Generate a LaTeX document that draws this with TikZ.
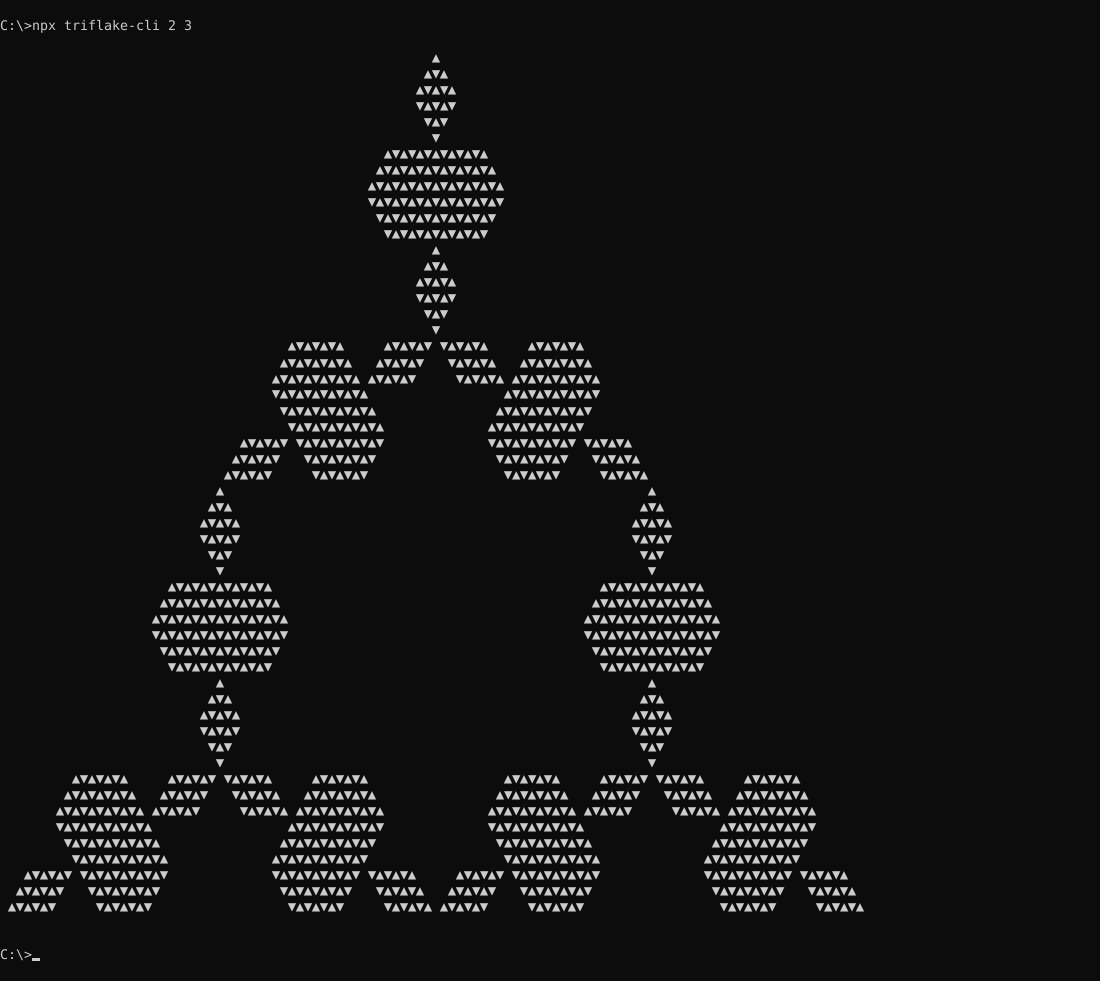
\documentclass[tikz,border=0pt]{standalone}
\usepackage{fontspec}
\setmonofont{DejaVu Sans Mono}
\newfontfamily\trifont{DejaVu Sans Mono}
\usepackage{xcolor}
\definecolor{termbg}{HTML}{0C0C0C}
\definecolor{termfg}{HTML}{CCCCCC}
\usepackage{tikz}

\newcommand{\tup}{\makebox[8pt]{\trifont ▲}}
\newcommand{\tdown}{\makebox[8pt]{\trifont ▼}}
\newcommand{\trirun}[3]{\foreach \q in {#2,...,#3}{\ifodd\numexpr#1+\q\relax\tdown\else\tup\fi}}

\begin{document}
\begin{tikzpicture}[x=1pt, y=-1pt,
	tri/.style={anchor=base west, inner sep=0pt, text=termfg, font=\fontsize{14}{16}\selectfont},
	term/.style={anchor=base west, inner sep=0pt, text=termfg, font=\ttfamily\fontsize{13.29}{16}\selectfont}]

\def \cw{8}    % char width (px)
\def \lh{16}   % line height (px)
\def \basey{63} % baseline of first flake row

\newcommand{\colx}[1]{#1 * \cw}
\newcommand{\rowy}[1]{\basey + #1 * \lh}

\fill[termbg] (0,0) rectangle (1100,981); % console background

\node[term] (cmd)    at (0,31)  {C:\textbackslash>npx triflake-cli 2 3};
\node[term] (prompt) at (0,959) {C:\textbackslash>};
\fill[termfg] (32,958) rectangle (40,961); % cursor

% three copies: top, bottom left, bottom right (row offset / apex column)
\foreach \dr/\dc [count=\k] in {0/54, 27/27, 27/81} {
	% vertical arm, rows centred on the apex column (row / half width)
	\foreach \r/\w in {0/0, 1/1, 2/2, 3/2, 4/1, 5/0,
	                   6/6, 7/7, 8/8, 9/8, 10/7, 11/6,
	                   12/0, 13/1, 14/2, 15/2, 16/1, 17/0} {
		\pgfmathtruncatemacro{\rr}{\dr + \r}
		\pgfmathtruncatemacro{\ca}{\dc - \w}
		\pgfmathtruncatemacro{\wl}{-\w}
		\node[tri] (v\k-\r) at ({\colx{\ca}}, {\rowy{\rr}}) {\trirun{\r}{\wl}{\w}};
	}
	% lower arms, right half given, left half mirrored (row / from / to)
	\foreach \r/\a/\b in {18/1/6, 18/12/18, 19/2/7, 19/11/19, 20/3/8, 20/10/20,
	                      21/9/20, 22/8/19, 23/7/18,
	                      24/7/17, 24/19/24, 25/8/16, 25/20/25, 26/9/15, 26/21/26} {
		\pgfmathtruncatemacro{\rr}{\dr + \r}
		\pgfmathtruncatemacro{\ca}{\dc + \a}
		\pgfmathtruncatemacro{\cb}{\dc - \b}
		\pgfmathtruncatemacro{\al}{-\a}
		\pgfmathtruncatemacro{\bl}{-\b}
		\node[tri] (r\k-\r-\a) at ({\colx{\ca}}, {\rowy{\rr}}) {\trirun{\r}{\a}{\b}};
		\node[tri] (l\k-\r-\a) at ({\colx{\cb}}, {\rowy{\rr}}) {\trirun{\r}{\bl}{\al}};
	}
}

\end{tikzpicture}
\end{document}
